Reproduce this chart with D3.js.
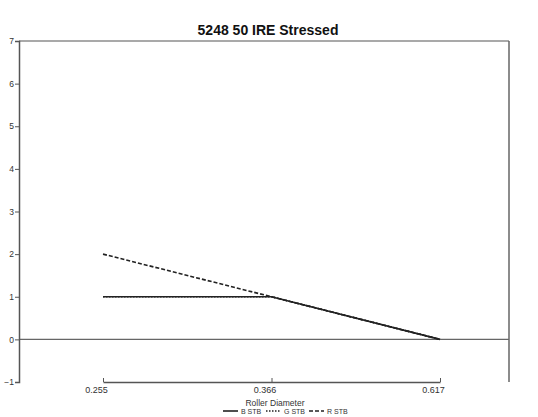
<!DOCTYPE html>
<html>
<head>
<meta charset="utf-8">
<script src="https://cdn.jsdelivr.net/npm/d3@7"></script>
<style>
body{margin:0;background:#fff;}
text{font-family:"Liberation Sans",Arial,sans-serif;fill:#333;}
</style>
</head>
<body>
<div id="chart"></div>
<script>
const diameters = ['0.255','0.366','0.617'];
const bStb = [1, 1, 0];
const gStb = [1, 1, 0];
const rStb = [2, 1, 0];
const yTicks = [-1,0,1,2,3,4,5,6,7];

const series = [
    {name:'B STB', values:bStb, dash:null},
    {name:'G STB', values:gStb, dash:'1.5,1.5'},
    {name:'R STB', values:rStb, dash:'4,2'}
];

const W = 538, H = 417;
const margin = {top:41, right:29, bottom:35, left:19};
const width = W - margin.left - margin.right;
const height = H - margin.top - margin.bottom;

const svg = d3.select('#chart')
.append('svg')
.attr('width',W)
.attr('height',H);

svg.append('text')
.attr('x',268)
.attr('y',35)
.attr('text-anchor','middle')
.style('font-size','14px')
.style('font-weight','bold')
.style('fill','#111')
.text('5248 50 IRE Stressed');

const g = svg.append('g')
.attr('transform',`translate(${margin.left},${margin.top})`);

const x = d3.scalePoint()
.domain(diameters)
.range([84, width-69]);

const y = d3.scaleLinear()
.domain([-1,7])
.range([height,0]);

// frame
g.append('line').attr('x1',0).attr('x2',width).attr('y1',0).attr('y2',0)
.attr('stroke','#555').attr('stroke-width',1.2);
g.append('line').attr('x1',width).attr('x2',width).attr('y1',0).attr('y2',height)
.attr('stroke','#666').attr('stroke-width',1.5);

// zero line
g.append('line').attr('x1',0).attr('x2',width).attr('y1',y(0)).attr('y2',y(0))
.attr('stroke','#666').attr('stroke-width',1.2);

const yAxis = g.append('g')
.call(d3.axisLeft(y).tickValues(yTicks).tickSize(4).tickPadding(1).tickFormat(d3.format('d')));
yAxis.select('.domain').attr('stroke','#555').attr('stroke-width',1.5);
yAxis.selectAll('.tick line').attr('stroke','#555');
yAxis.selectAll('text').style('font-size','8.5px').style('fill','#333');

const xAxis = g.append('g')
.attr('transform',`translate(0,${height})`)
.call(d3.axisBottom(x).tickSize(0).tickPadding(5).tickSizeOuter(0));
xAxis.select('.domain').attr('stroke','#555').attr('stroke-width',1.5);
xAxis.selectAll('.tick line').attr('stroke','#555').attr('y2',-4).attr('y1',0);
xAxis.selectAll('text').style('font-size','9px').style('fill','#333').attr('dx',-7);

const line = d3.line()
.x(function(d,i){ return x(diameters[i]); })
.y(function(d){ return y(d); });

g.selectAll('.series')
.data(series.slice().reverse())
.enter()
.append('path')
.attr('d',function(d){ return line(d.values); })
.attr('fill','none')
.attr('stroke','#222')
.attr('stroke-width',1.6)
.attr('stroke-dasharray',function(d){ return d.dash; });

svg.append('text')
.attr('x',275)
.attr('y',406)
.attr('text-anchor','middle')
.style('font-size','8.5px')
.text('Roller Diameter');

// legend
const legend = svg.append('g')
.attr('transform','translate(223,414)');
let lx = 0;
series.forEach(function(s){
    legend.append('line')
    .attr('x1',lx).attr('x2',lx+15).attr('y1',-3).attr('y2',-3)
    .attr('stroke','#222').attr('stroke-width',1.6)
    .attr('stroke-dasharray',s.dash);
    legend.append('text')
    .attr('x',lx+18).attr('y',0)
    .style('font-size','7px')
    .text(s.name);
    lx += 43;
});
</script>
</body>
</html>
